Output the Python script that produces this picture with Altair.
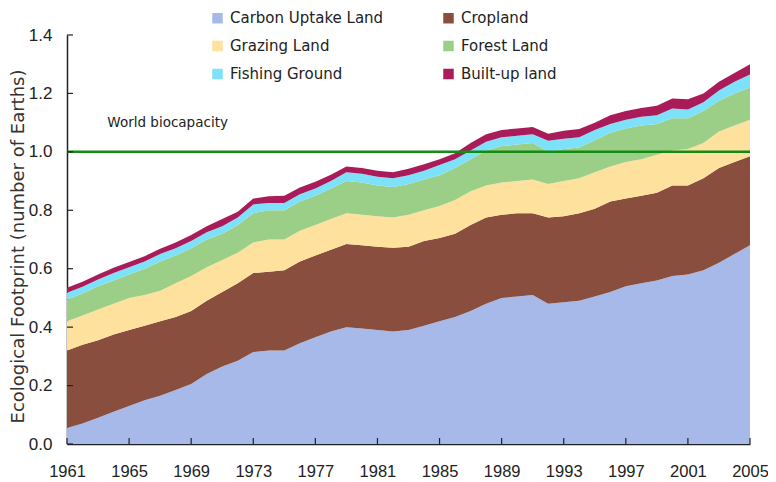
import altair as alt
import pandas as pd

years = list(range(1961, 2006))
categories = ["Carbon Uptake Land", "Cropland", "Grazing Land", "Forest Land",
              "Fishing Ground", "Built-up land"]
colors = ["#A7B9E8", "#8A4E3E", "#FDE19C", "#9BCF88", "#7DE1FA", "#A91B59"]

carbon = [0.055, 0.07, 0.09, 0.11, 0.13, 0.15, 0.165, 0.185, 0.205, 0.24,
          0.265, 0.285, 0.315, 0.32, 0.32, 0.345, 0.365, 0.385, 0.40, 0.395,
          0.39, 0.385, 0.39, 0.405, 0.42, 0.435, 0.455, 0.48, 0.50, 0.505,
          0.51, 0.48, 0.485, 0.49, 0.505, 0.52, 0.54, 0.55, 0.56, 0.575,
          0.58, 0.595, 0.62, 0.65, 0.68]
cropland = [0.265, 0.27, 0.265, 0.265, 0.26, 0.255, 0.255, 0.25, 0.25, 0.25,
            0.255, 0.265, 0.27, 0.27, 0.275, 0.28, 0.28, 0.28, 0.285, 0.285,
            0.285, 0.287, 0.285, 0.29, 0.285, 0.285, 0.295, 0.295, 0.285, 0.285,
            0.28, 0.295, 0.295, 0.30, 0.30, 0.31, 0.30, 0.30, 0.30, 0.31,
            0.305, 0.315, 0.325, 0.315, 0.305]
grazing = [0.10, 0.10, 0.105, 0.105, 0.11, 0.105, 0.105, 0.115, 0.12, 0.115,
           0.11, 0.105, 0.105, 0.11, 0.105, 0.105, 0.105, 0.105, 0.105, 0.105,
           0.105, 0.103, 0.11, 0.105, 0.11, 0.115, 0.115, 0.11, 0.11, 0.11,
           0.115, 0.115, 0.12, 0.12, 0.125, 0.12, 0.125, 0.125, 0.13, 0.12,
           0.125, 0.12, 0.125, 0.125, 0.125]
forest = [0.075, 0.075, 0.08, 0.08, 0.08, 0.09, 0.10, 0.095, 0.095, 0.095,
          0.09, 0.095, 0.10, 0.10, 0.10, 0.10, 0.10, 0.105, 0.11, 0.11,
          0.105, 0.105, 0.105, 0.105, 0.105, 0.11, 0.11, 0.12, 0.125, 0.125,
          0.125, 0.11, 0.11, 0.105, 0.11, 0.115, 0.115, 0.115, 0.105, 0.11,
          0.105, 0.11, 0.105, 0.11, 0.11]
fishing = [0.023, 0.023, 0.023, 0.025, 0.025, 0.025, 0.025, 0.025, 0.025, 0.025,
           0.025, 0.025, 0.03, 0.025, 0.025, 0.025, 0.025, 0.025, 0.03, 0.03,
           0.03, 0.03, 0.03, 0.03, 0.035, 0.03, 0.03, 0.03, 0.03, 0.03,
           0.03, 0.038, 0.035, 0.035, 0.035, 0.03, 0.03, 0.03, 0.03, 0.033,
           0.03, 0.03, 0.035, 0.04, 0.045]
builtup = [0.017, 0.017, 0.017, 0.018, 0.018, 0.018, 0.018, 0.02, 0.02, 0.02,
           0.025, 0.02, 0.02, 0.023, 0.025, 0.023, 0.023, 0.022, 0.02, 0.02,
           0.02, 0.02, 0.022, 0.023, 0.02, 0.02, 0.025, 0.025, 0.025, 0.025,
           0.025, 0.024, 0.027, 0.028, 0.025, 0.03, 0.03, 0.03, 0.033, 0.035,
           0.035, 0.03, 0.03, 0.03, 0.035]

biocapacity = 1.0
biocap_label = "World biocapacity"
biocap_label_pos = (1963.6, 1.1)
x_ticks = list(range(1961, 2006, 4))
y_ticks = [0.0, 0.2, 0.4, 0.6, 0.8, 1.0, 1.2, 1.4]

series = [carbon, cropland, grazing, forest, fishing, builtup]
rows = []
for i, (cat, vals) in enumerate(zip(categories, series)):
    for yr, v in zip(years, vals):
        rows.append({"year": yr, "value": v, "category": cat, "idx": i})
df = pd.DataFrame(rows)

FONT = "Liberation Sans"
WIDE = "DejaVu Sans"
AX = "#222222"

x_scale = alt.Scale(domain=[years[0], years[-1]], nice=False, zero=False)
x_axis = alt.Axis(values=x_ticks, format="d", title=None, ticks=False,
                  labelPadding=19, labelFontSize=16.5, labelFont=FONT,
                  labelColor=AX, domainColor=AX, domainWidth=1.5,
                  grid=False, labelFlush=False)
y_scale = alt.Scale(domain=[0, 1.4], nice=False)
y_axis = alt.Axis(values=y_ticks, format=".1f", ticks=False, grid=False,
                  labelPadding=15, labelFontSize=17, labelFont=FONT, labelColor=AX,
                  domainColor=AX, domainWidth=1.5,
                  title="Ecological Footprint (number of Earths)",
                  titleFont=WIDE, titleFontSize=18, titleFontWeight="normal",
                  titleColor="#333333", titleAngle=270, titleAlign="center",
                  titleBaseline="middle", titleX=-49, titleY=211)


def X(field):
    return alt.X(field, scale=x_scale, axis=x_axis)


def Y(field, **kw):
    return alt.Y(field, scale=y_scale, axis=y_axis, **kw)


area = alt.Chart(df).mark_area(interpolate="linear").encode(
    x=X("year:Q"),
    y=Y("value:Q", stack="zero"),
    color=alt.Color("category:N",
                    scale=alt.Scale(domain=categories, range=colors),
                    legend=alt.Legend(title=None, orient="none", legendX=143,
                                      legendY=-24.5, columns=2, direction="horizontal",
                                      symbolType="square",
                                      symbolSize=110, symbolStrokeWidth=0,
                                      symbolOpacity=1, labelFontSize=15,
                                      labelFont=WIDE, labelColor=AX,
                                      columnPadding=57, rowPadding=12,
                                      labelOffset=5, labelLimit=300)),
    order=alt.Order("idx:Q"),
)

xt = pd.DataFrame({"year": x_ticks})
yt = pd.DataFrame({"value": y_ticks})
x_tick_layer = alt.Chart(xt).mark_rule(color=AX, strokeWidth=1.2).encode(
    x=X("year:Q"), y=alt.value(409), y2=alt.value(403))
y_tick_layer = alt.Chart(yt).mark_rule(color=AX, strokeWidth=1.2).encode(
    y=Y("value:Q"), x=alt.value(0), x2=alt.value(6))

bio = pd.DataFrame({"value": [biocapacity], "year": [years[0]], "year_end": [years[-1]]})
bio_rule = alt.Chart(bio).mark_rule(color="#148C14", strokeWidth=2.5).encode(
    y=Y("value:Q"), x=X("year:Q"), x2="year_end:Q")

lab = pd.DataFrame({"year": [biocap_label_pos[0]], "value": [biocap_label_pos[1]],
                    "t": [biocap_label]})
bio_text = alt.Chart(lab).mark_text(align="left", baseline="middle", font=WIDE,
                                    fontSize=13.5, color="#222222").encode(
    x=X("year:Q"), y=Y("value:Q"), text="t:N")

chart = alt.layer(area, bio_rule, bio_text, x_tick_layer, y_tick_layer).properties(
    width=683, height=409,
    autosize=alt.AutoSizeParams(type="none"),
    padding={"left": 59, "top": 27, "right": 18, "bottom": 38},
    background="white",
).configure_view(stroke=None)

chart.save("out.html", embed_options={"renderer": "svg", "actions": False})
